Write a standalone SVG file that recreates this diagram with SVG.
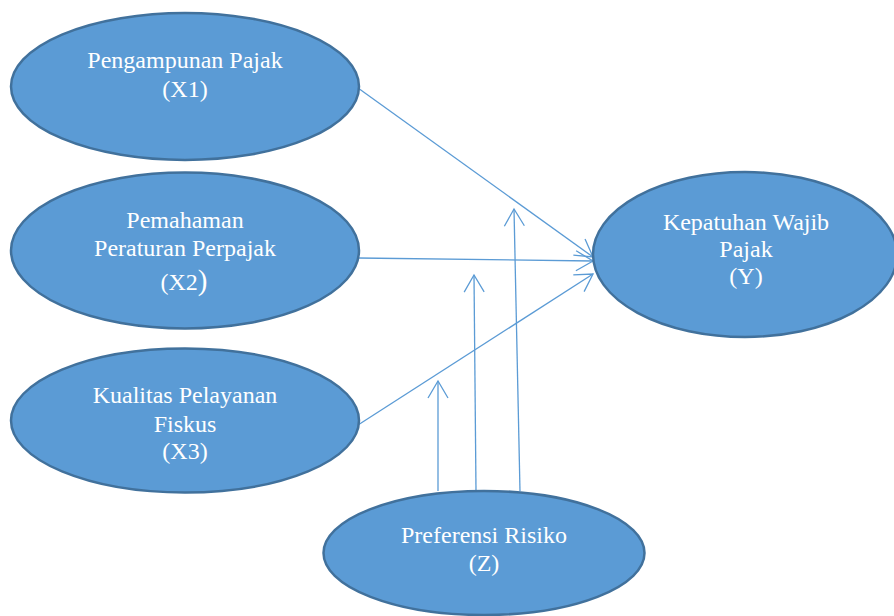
<svg xmlns="http://www.w3.org/2000/svg" width="894" height="616" viewBox="0 0 894 616">
<style>
.node ellipse{fill:#5B9BD5;stroke:#41719C;stroke-width:2.5}
.node text{fill:#FFFFFF;font-family:"Liberation Serif","Times New Roman",serif;font-size:24px;text-anchor:middle}
.edges line{stroke:#5B9BD5;stroke-width:1.3;fill:none}
</style>
<defs>
<marker id="arr" markerUnits="userSpaceOnUse" markerWidth="24" markerHeight="24" viewBox="-20 -12 24 24" refX="0" refY="0" orient="auto">
<path d="M-17,-10 L0,0 L-17,10" fill="none" stroke="#5B9BD5" stroke-width="1.3"/>
</marker>
</defs>
<rect width="894" height="616" fill="#FFFFFF"/>
<g class="edges" id="connectors">
<line x1="358" y1="88" x2="593" y2="257" marker-end="url(#arr)"/>
<line x1="358" y1="258" x2="593" y2="261" marker-end="url(#arr)"/>
<line x1="358" y1="425" x2="593" y2="274" marker-end="url(#arr)"/>
<line x1="438" y1="491" x2="438" y2="381" marker-end="url(#arr)"/>
<line x1="476" y1="491" x2="474" y2="275" marker-end="url(#arr)"/>
<line x1="520" y1="491" x2="514" y2="209" marker-end="url(#arr)"/>
</g>
<g class="node" id="x1">
<ellipse cx="185" cy="86.5" rx="174" ry="73.5"/>
<text x="185" y="68">Pengampunan Pajak</text>
<text x="185" y="96.5">(X1)</text>
</g>
<g class="node" id="x2">
<ellipse cx="185" cy="250.5" rx="174" ry="78"/>
<text x="185" y="228">Pemahaman</text>
<text x="185" y="256">Peraturan Perpajak</text>
<text x="184" y="290">(X2<tspan font-size="29">)</tspan></text>
</g>
<g class="node" id="x3">
<ellipse cx="185" cy="420.5" rx="174" ry="72"/>
<text x="185" y="403">Kualitas Pelayanan</text>
<text x="185" y="431.5">Fiskus</text>
<text x="185" y="459">(X3)</text>
</g>
<g class="node" id="y">
<ellipse cx="745" cy="254.5" rx="152" ry="82.5"/>
<text x="746" y="230">Kepatuhan Wajib</text>
<text x="746" y="257">Pajak</text>
<text x="746" y="284">(Y)</text>
</g>
<g class="node" id="z">
<ellipse cx="484" cy="553" rx="160.5" ry="62"/>
<text x="484" y="543">Preferensi Risiko</text>
<text x="484" y="571">(Z)</text>
</g>
</svg>
